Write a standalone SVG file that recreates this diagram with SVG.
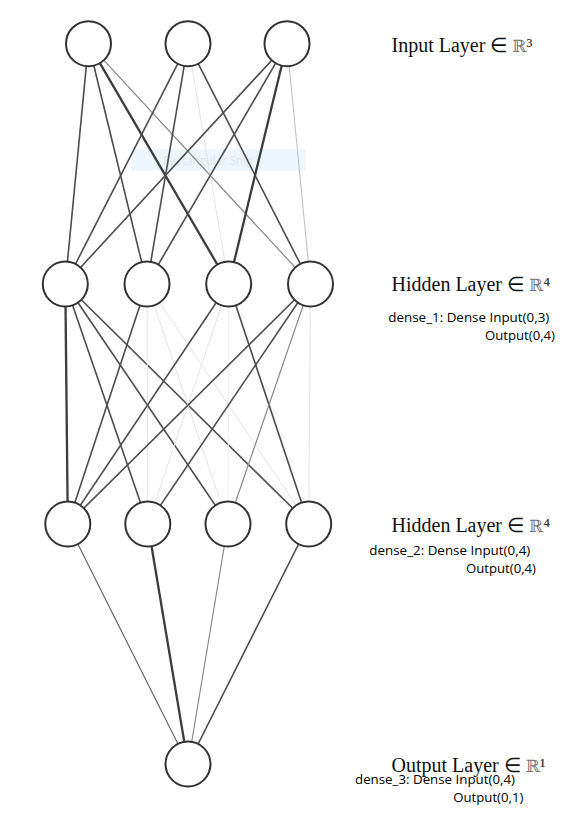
<svg xmlns="http://www.w3.org/2000/svg" width="586" height="824" viewBox="0 0 586 824">
<style>
.node{fill:#fff;stroke:#333;stroke-width:2}
.e{fill:none}
.k1{stroke:#4d4d4d;stroke-width:1.6}
.k2{stroke:#3c3c3c;stroke-width:2.3}
.m{stroke:#888;stroke-width:1.2}
.md{stroke:#666;stroke-width:1.2}
.l{stroke:#bdbdbd;stroke-width:1}
.vl{stroke:#e4e4e4;stroke-width:1}
.vvl{stroke:#f0f0f0;stroke-width:1}
.lbl{font-family:"Liberation Serif","Times New Roman",serif;font-size:20px;fill:#111}
.R{font-family:"DejaVu Serif","DejaVu Sans",serif;fill:#777;font-size:17px}
.sup{font-family:"Liberation Serif","DejaVu Serif",serif;font-size:20px;fill:#333}
.dn{font-family:"Open Sans","Noto Sans","Liberation Sans",sans-serif;font-size:13.5px;fill:#000}
</style>
<rect width="586" height="824" fill="#fff"/>
<g id="snip-overlay">
<rect x="131.5" y="149.5" width="174" height="21" fill="#eef6fd"/>
<text x="163" y="165" font-family="Open Sans,Liberation Sans,sans-serif" font-size="13" fill="#e2e6ea" textLength="90" lengthAdjust="spacingAndGlyphs">Rectangular Snip</text>
</g>
<g id="connectors" class="e">
<line class="k1" x1="88.5" y1="43.7" x2="65.3" y2="284"/>
<line class="k1" x1="88.5" y1="43.7" x2="147" y2="284"/>
<line class="k2" x1="88.5" y1="43.7" x2="228.7" y2="284"/>
<line class="m" x1="88.5" y1="43.7" x2="310.5" y2="284"/>
<line class="k1" x1="188" y1="43.7" x2="65.3" y2="284"/>
<line class="k1" x1="188" y1="43.7" x2="147" y2="284"/>
<line class="vl" x1="188" y1="43.7" x2="228.7" y2="284"/>
<line class="k1" x1="188" y1="43.7" x2="310.5" y2="284"/>
<line class="k1" x1="287" y1="43.7" x2="65.3" y2="284"/>
<line class="k1" x1="287" y1="43.7" x2="147" y2="284"/>
<line class="k2" x1="287" y1="43.7" x2="228.7" y2="284"/>
<line class="l" x1="287" y1="43.7" x2="310.5" y2="284"/>

<line class="k2" x1="65.3" y1="284" x2="67.8" y2="524"/>
<line class="k1" x1="65.3" y1="284" x2="147.8" y2="524"/>
<line class="k1" x1="65.3" y1="284" x2="228" y2="524"/>
<line class="k1" x1="65.3" y1="284" x2="308.7" y2="524"/>
<line class="k1" x1="147" y1="284" x2="67.8" y2="524"/>
<line class="vl" x1="147" y1="284" x2="147.8" y2="524"/>
<line class="vl" x1="147" y1="284" x2="228" y2="524"/>
<line class="vl" x1="147" y1="284" x2="308.7" y2="524"/>
<line class="k1" x1="228.7" y1="284" x2="67.8" y2="524"/>
<line class="vl" x1="228.7" y1="284" x2="147.8" y2="524"/>
<line class="vvl" x1="228.7" y1="284" x2="228" y2="524"/>
<line class="k1" x1="228.7" y1="284" x2="308.7" y2="524"/>
<line class="k1" x1="310.5" y1="284" x2="67.8" y2="524"/>
<line class="k1" x1="310.5" y1="284" x2="147.8" y2="524"/>
<line class="m" x1="310.5" y1="284" x2="228" y2="524"/>
<line class="vl" x1="310.5" y1="284" x2="308.7" y2="524"/>

<line class="md" x1="67.8" y1="524" x2="188" y2="764"/>
<line class="k2" x1="147.8" y1="524" x2="188" y2="764"/>
<line class="m" x1="228" y1="524" x2="188" y2="764"/>
<line class="k1" x1="308.7" y1="524" x2="188" y2="764"/>
</g>
<g id="input-layer">
<circle id="in1" class="node" cx="88.5" cy="43.7" r="22.5"/>
<circle id="in2" class="node" cx="188" cy="43.7" r="22.5"/>
<circle id="in3" class="node" cx="287" cy="43.7" r="22.5"/>
</g>
<g id="hidden-layer-1">
<circle id="h1a" class="node" cx="65.3" cy="284" r="22.5"/>
<circle id="h1b" class="node" cx="147" cy="284" r="22.5"/>
<circle id="h1c" class="node" cx="228.7" cy="284" r="22.5"/>
<circle id="h1d" class="node" cx="310.5" cy="284" r="22.5"/>
</g>
<g id="hidden-layer-2">
<circle id="h2a" class="node" cx="67.8" cy="524" r="22.5"/>
<circle id="h2b" class="node" cx="147.8" cy="524" r="22.5"/>
<circle id="h2c" class="node" cx="228" cy="524" r="22.5"/>
<circle id="h2d" class="node" cx="308.7" cy="524" r="22.5"/>
</g>
<g id="output-layer">
<circle id="out1" class="node" cx="188" cy="764" r="22.5"/>
</g>
<g id="labels">
<text class="lbl" x="391.5" y="52">Input Layer ∈ <tspan class="R">ℝ</tspan><tspan class="sup">³</tspan></text>
<text class="lbl" x="391.5" y="291">Hidden Layer ∈ <tspan class="R">ℝ</tspan><tspan class="sup">⁴</tspan></text>
<text class="dn" x="388.3" y="322" textLength="161" lengthAdjust="spacingAndGlyphs">dense_1: Dense Input(0,3)</text>
<text class="dn" x="485" y="340" textLength="70" lengthAdjust="spacingAndGlyphs">Output(0,4)</text>
<text class="lbl" x="391.5" y="532">Hidden Layer ∈ <tspan class="R">ℝ</tspan><tspan class="sup">⁴</tspan></text>
<text class="dn" x="369.3" y="554.5" textLength="161" lengthAdjust="spacingAndGlyphs">dense_2: Dense Input(0,4)</text>
<text class="dn" x="466" y="573" textLength="70" lengthAdjust="spacingAndGlyphs">Output(0,4)</text>
<text class="lbl" x="391.5" y="772">Output Layer ∈ <tspan class="R">ℝ</tspan><tspan class="sup">¹</tspan></text>
<text class="dn" x="355" y="784" textLength="160" lengthAdjust="spacingAndGlyphs">dense_3: Dense Input(0,4)</text>
<text class="dn" x="453.3" y="802" textLength="70" lengthAdjust="spacingAndGlyphs">Output(0,1)</text>
</g>
</svg>
